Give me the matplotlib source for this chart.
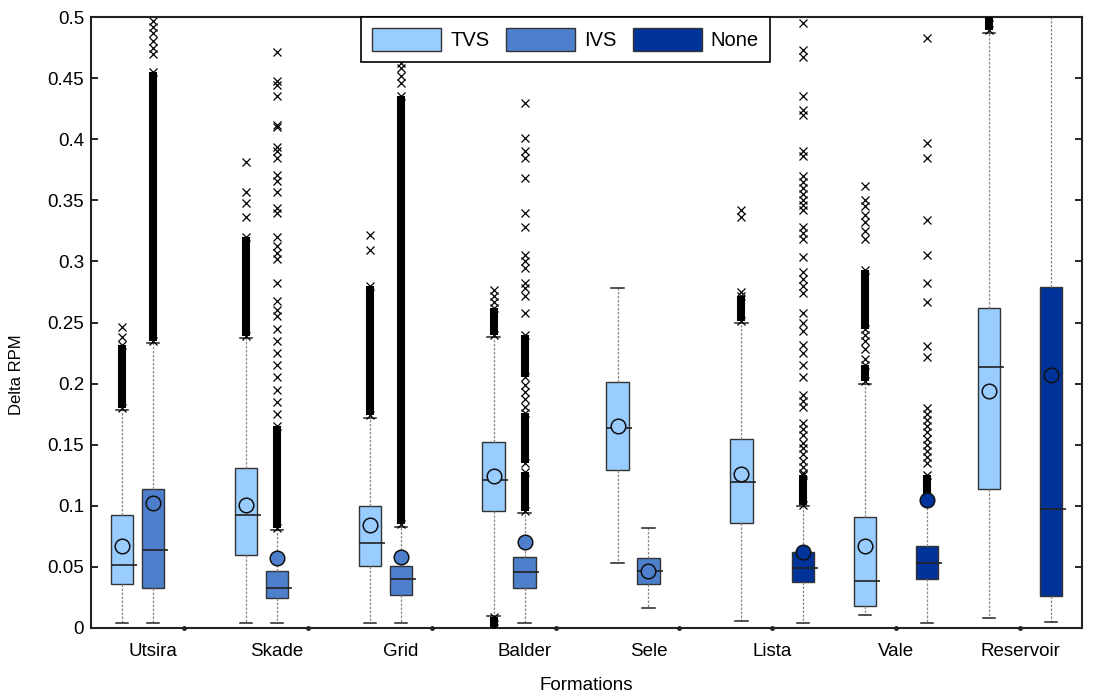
import matplotlib
matplotlib.use("Agg")
import matplotlib.pyplot as plt
from matplotlib.patches import Patch
from matplotlib.ticker import FuncFormatter, MultipleLocator

plt.rcParams.update({
    "font.family": ["Liberation Sans", "DejaVu Sans"],
    "font.size": 11,
})

FORMATIONS = ["Utsira", "Skade", "Grid", "Balder", "Sele", "Lista", "Vale", "Reservoir"]
GROUPS = ["TVS", "IVS", "None"]
COLORS = {"TVS": "#99ccff", "IVS": "#4d7fcc", "None": "#003399"}

# box statistics per group, one entry per formation (None = no data)
q1 = {
    "TVS": [0.036, 0.0597, 0.051, 0.0957, 0.129, 0.086, 0.018, 0.1135],
    "IVS": [0.0327, 0.0245, 0.027, 0.0327, 0.036, None, None, None],
    "None": [None, None, None, None, None, 0.0376, 0.040, 0.026],
}
med = {
    "TVS": [0.0515, 0.0925, 0.0695, 0.121, 0.1635, 0.1195, 0.0385, 0.2135],
    "IVS": [0.0638, 0.0327, 0.040, 0.046, 0.047, None, None, None],
    "None": [None, None, None, None, None, 0.049, 0.053, 0.0975],
}
q3 = {
    "TVS": [0.0925, 0.131, 0.100, 0.152, 0.201, 0.1545, 0.091, 0.262],
    "IVS": [0.1137, 0.0466, 0.051, 0.058, 0.057, None, None, None],
    "None": [None, None, None, None, None, 0.0622, 0.067, 0.279],
}
mean = {
    "TVS": [0.067, 0.1007, 0.084, 0.1245, 0.165, 0.126, 0.067, 0.194],
    "IVS": [0.102, 0.0573, 0.058, 0.0705, 0.0466, None, None, None],
    "None": [None, None, None, None, None, 0.062, 0.105, 0.207],
}
whis_lo = {
    "TVS": [0.004, 0.004, 0.004, 0.010, 0.053, 0.0057, 0.0106, 0.008],
    "IVS": [0.004, 0.004, 0.004, 0.004, 0.0164, None, None, None],
    "None": [None, None, None, None, None, 0.004, 0.004, 0.005],
}
whis_hi = {
    "TVS": [0.178, 0.237, 0.172, 0.238, 0.278, 0.250, 0.200, 0.487],
    "IVS": [0.233, 0.080, 0.083, 0.094, 0.082, None, None, None],
    "None": [None, None, None, None, None, 0.100, 0.104, 0.55],
}

# outliers: ranges packed so tightly they merge, plus the individual ones
dense = {
    "TVS": [[(0.18, 0.232)], [(0.239, 0.32)], [(0.174, 0.28)],
            [(0.24, 0.262), (0.0, 0.009)], [], [(0.251, 0.272)],
            [(0.202, 0.215), (0.245, 0.293)], [(0.489, 0.5)]],
    "IVS": [[(0.235, 0.455)], [(0.082, 0.165)], [(0.085, 0.435)],
            [(0.096, 0.128), (0.135, 0.176), (0.205, 0.24)], [], [], [], []],
    "None": [[], [], [], [], [], [(0.101, 0.125)], [(0.107, 0.125)], []],
}
fliers = {
    "TVS": [
        [0.238, 0.246],
        [0.336, 0.348, 0.357, 0.381],
        [0.309, 0.322],
        [0.267, 0.272, 0.277],
        [],
        [0.275, 0.336, 0.342],
        [0.22, 0.228, 0.235, 0.24, 0.318, 0.325, 0.332, 0.338, 0.345, 0.35, 0.362],
        [],
    ],
    "IVS": [
        [0.47, 0.475, 0.48, 0.487, 0.492, 0.497],
        [0.175, 0.185, 0.195, 0.205, 0.215, 0.225, 0.235, 0.245, 0.255, 0.26,
         0.268, 0.282, 0.302, 0.307, 0.313, 0.32, 0.34, 0.344, 0.357, 0.366,
         0.371, 0.385, 0.39, 0.394, 0.41, 0.412, 0.435, 0.444, 0.448, 0.471],
        [0.446, 0.452, 0.458, 0.462, 0.499],
        [0.181, 0.187, 0.193, 0.199, 0.258, 0.272, 0.278, 0.282, 0.295, 0.3,
         0.305, 0.328, 0.34, 0.368, 0.385, 0.39, 0.401, 0.43],
        [], [], [], [],
    ],
    "None": [
        [], [], [], [], [],
        [0.127, 0.132, 0.137, 0.142, 0.147, 0.151, 0.158, 0.163, 0.168, 0.181,
         0.186, 0.191, 0.205, 0.215, 0.225, 0.232, 0.243, 0.25, 0.258, 0.274,
         0.28, 0.286, 0.291, 0.304, 0.318, 0.323, 0.328, 0.342, 0.346, 0.35,
         0.355, 0.36, 0.365, 0.37, 0.386, 0.39, 0.42, 0.424, 0.435, 0.467,
         0.473, 0.495],
        [0.135, 0.14, 0.145, 0.15, 0.155, 0.16, 0.165, 0.17, 0.175, 0.18,
         0.222, 0.231, 0.267, 0.282, 0.305, 0.334, 0.385, 0.397, 0.483],
        [],
    ],
}

fig = plt.figure(figsize=(11.02, 6.98), dpi=100)
ax = fig.add_axes([0.0826, 0.1003, 0.8993, 0.8753])

BOX_W = 0.72
for g_idx, grp in enumerate(GROUPS):
    stats, pos, empty = [], [], []
    for f_idx in range(len(FORMATIONS)):
        x = f_idx * 4 + g_idx
        if q1[grp][f_idx] is None:
            empty.append(x)
            continue
        stats.append({
            "q1": q1[grp][f_idx], "med": med[grp][f_idx], "q3": q3[grp][f_idx],
            "mean": mean[grp][f_idx], "whislo": whis_lo[grp][f_idx],
            "whishi": whis_hi[grp][f_idx], "fliers": fliers[grp][f_idx],
        })
        pos.append(x)
        for lo, hi in dense[grp][f_idx]:
            ax.vlines(x, lo, hi, color="black", lw=5.8, zorder=3)
            ax.plot([x, x], [lo, hi], ls="none", marker="x", ms=5.5,
                    mew=0.9, color="black", zorder=3)
    art = ax.bxp(
        stats, positions=pos, widths=BOX_W, patch_artist=True,
        showmeans=True, showfliers=True, capwidths=BOX_W * 0.55,
        boxprops=dict(facecolor=COLORS[grp], edgecolor="#333333", lw=1.0),
        medianprops=dict(color="#222222", lw=1.2),
        whiskerprops=dict(color="#8a8a8a", lw=0.9, ls=(0, (2.0, 1.2))),
        capprops=dict(color="#222222", lw=1.1),
        flierprops=dict(marker="x", ms=5.5, mew=0.9, mec="black", ls="none"),
        meanprops=dict(marker="o", ms=10.5, mfc=COLORS[grp], mec="#111111", mew=1.1),
    )
    for ln in art["medians"]:
        xs = ln.get_xdata()
        ln.set_xdata([xs[0], xs[1] + 0.12])
    for ln in art["means"]:
        ln.set_zorder(4)
    # groups without data leave only a stub at zero
    ax.plot(empty, [0] * len(empty), ls="none", marker="o", ms=2.5,
            color="#222222", clip_on=False, zorder=5)

ax.set_xlim(-1, 31)
ax.set_ylim(0, 0.5)
ax.yaxis.set_major_locator(MultipleLocator(0.05))
ax.yaxis.set_major_formatter(FuncFormatter(lambda v, _: f"{v:g}"))
ax.set_xticks([i * 4 + 1 for i in range(len(FORMATIONS))])
ax.set_xticklabels(FORMATIONS, fontsize=13.5)
ax.tick_params(axis="x", length=0, pad=11)
ax.tick_params(axis="y", direction="in", right=True, length=5, width=1.2,
               labelsize=13.5, pad=5)
for s in ax.spines.values():
    s.set_linewidth(1.5)
    s.set_color("#222222")
ax.set_ylabel("Delta RPM", fontsize=12)
ax.yaxis.set_label_coords(-0.0676, 0.414)
ax.set_xlabel("Formations", fontsize=13.5, labelpad=12)

handles = [Patch(facecolor=COLORS[g], edgecolor="#333333", lw=1.0, label=g) for g in GROUPS]
leg = ax.legend(handles=handles, ncol=3, loc="upper center", bbox_to_anchor=(0.479, 1.0),
                borderaxespad=0, fontsize=14.5, handlelength=3.4, handleheight=1.4,
                handletextpad=0.45, columnspacing=0.85, borderpad=0.55,
                fancybox=False, framealpha=1.0)
leg.get_frame().set_edgecolor("black")
leg.get_frame().set_linewidth(1.2)
leg.set_zorder(10)

fig.savefig("out.png", dpi=100)
